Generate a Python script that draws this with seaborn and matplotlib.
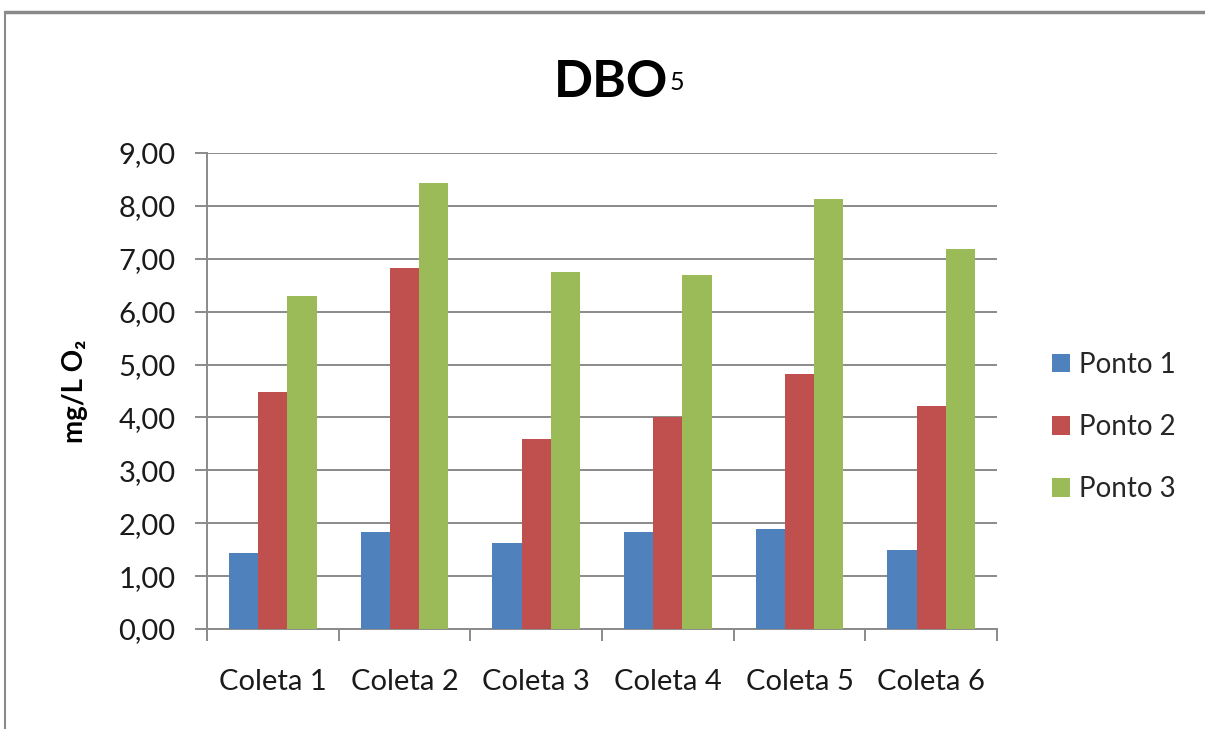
import matplotlib
matplotlib.use("Agg")
import matplotlib.pyplot as plt
import seaborn as sns
import pandas as pd
import numpy as np
from matplotlib.ticker import FuncFormatter, FixedLocator
from matplotlib.lines import Line2D
from matplotlib.patches import Patch

# DBO5 measurements (mg/L O2) per sampling campaign and sampling point
coletas = ["Coleta 1", "Coleta 2", "Coleta 3", "Coleta 4", "Coleta 5", "Coleta 6"]
pontos = ["Ponto 1", "Ponto 2", "Ponto 3"]
ponto1 = [1.43, 1.83, 1.62, 1.83, 1.89, 1.49]
ponto2 = [4.49, 6.82, 3.60, 4.00, 4.82, 4.21]
ponto3 = [6.30, 8.43, 6.75, 6.69, 8.13, 7.18]
cores = ["#4F81BD", "#C0504D", "#9BBB59"]

df = pd.DataFrame({
    "Coleta": coletas * 3,
    "Ponto": [p for p in pontos for _ in coletas],
    "Valor": ponto1 + ponto2 + ponto3,
})

sns.set_theme(style="white")
plt.rcParams["font.family"] = ["Lato", "DejaVu Sans"]

W, H = 1205, 729
fig = plt.figure(figsize=(W / 100, H / 100), dpi=100)
ax = fig.add_axes([207 / W, 1 - 629 / H, (997 - 207) / W, (629 - 153) / H])

sns.barplot(data=df, x="Coleta", y="Valor", hue="Ponto", order=coletas,
            hue_order=pontos, palette=cores, width=0.667, saturation=1,
            errorbar=None, ax=ax, legend=False, linewidth=0, zorder=3)

ax.set_ylim(0, 9)
ax.set_xlim(-0.5, 5.5)
ax.set_yticks(np.arange(0, 10, 1))
ax.yaxis.set_major_formatter(FuncFormatter(lambda v, _: f"{v:.2f}".replace(".", ",")))
ax.grid(axis="y", color="#8a8a8a", linewidth=1.4, zorder=0)
ax.set_axisbelow(True)

for side in ("top", "right"):
    ax.spines[side].set_visible(False)
for side in ("left", "bottom"):
    ax.spines[side].set_color("#8a8a8a")
    ax.spines[side].set_linewidth(1.4)

ax.tick_params(axis="y", which="major", left=True, length=8.6, width=1.4,
               color="#8a8a8a", labelsize=21, pad=14, labelcolor="#1a1a1a")
ax.tick_params(axis="x", which="major", bottom=False, labelsize=21, pad=23,
               labelcolor="#1a1a1a")
ax.xaxis.set_minor_locator(FixedLocator(np.arange(-0.5, 6.0, 1.0)))
ax.tick_params(axis="x", which="minor", bottom=True, length=8.6, width=1.4,
               color="#8a8a8a")
ax.set_xlabel("")
ax.set_ylabel("")
fig.text(75 / W, 1 - 391 / H, "mg/L O₂", rotation=90, ha="center", va="center",
         fontsize=20, fontweight="bold", color="black")

# Title with raised index
fig.text(668 / W, 1 - 97 / H, "DBO", ha="right", va="baseline",
         fontsize=37, fontweight="bold", color="black")
fig.text(670 / W, 1 - 90 / H, "5", ha="left", va="baseline",
         fontsize=18, color="black")

handles = [Patch(facecolor=c, edgecolor="none") for c in cores]
fig.legend(handles, pontos, loc="center left", bbox_to_anchor=(1052 / W, 1 - 427 / H),
           frameon=False, fontsize=20, handlelength=0.65, handleheight=0.65,
           handletextpad=0.32, labelspacing=1.3, borderpad=0, borderaxespad=0)

# Chart frame
fig.add_artist(Line2D([5 / W, 1.0], [1 - 12 / H, 1 - 12 / H],
                      transform=fig.transFigure, color="#8a8a8a", linewidth=2.5))
fig.add_artist(Line2D([5 / W, 5 / W], [0.0, 1 - 12 / H],
                      transform=fig.transFigure, color="#8a8a8a", linewidth=1.5))

fig.savefig("out.png", dpi=100, facecolor="white")
